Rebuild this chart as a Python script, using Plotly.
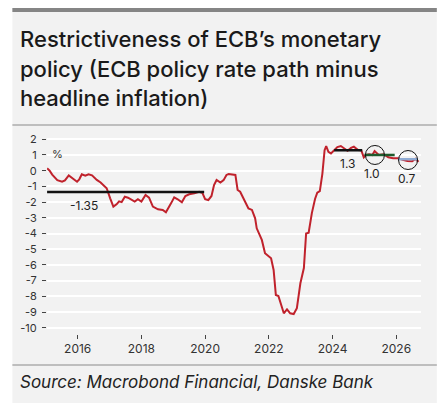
import plotly.graph_objects as go

# ---- data ----
years = [2015.04, 2015.12, 2015.2, 2015.28, 2015.36, 2015.51, 2015.6, 2015.72, 2015.85, 2015.98,
         2016.05, 2016.13, 2016.24, 2016.34, 2016.45, 2016.6, 2016.72, 2016.81, 2016.91, 2017.02,
         2017.12, 2017.22, 2017.3, 2017.38, 2017.48, 2017.58, 2017.69, 2017.79, 2017.89, 2018.0,
         2018.13, 2018.24, 2018.36, 2018.45, 2018.52, 2018.67, 2018.77, 2018.93, 2019.03, 2019.14,
         2019.27, 2019.38, 2019.5, 2019.66, 2019.81, 2019.91, 2020.0, 2020.1, 2020.2, 2020.28,
         2020.36, 2020.48, 2020.58, 2020.67, 2020.74, 2020.95, 2021.02, 2021.1, 2021.26, 2021.36,
         2021.47, 2021.57, 2021.62, 2021.78, 2021.88, 2021.99, 2022.07, 2022.15, 2022.22, 2022.3,
         2022.39, 2022.47, 2022.57, 2022.67, 2022.78, 2022.88, 2022.99, 2023.1, 2023.17, 2023.25,
         2023.35, 2023.45, 2023.52, 2023.6, 2023.68, 2023.75, 2023.8, 2023.87, 2023.95, 2024.05,
         2024.15, 2024.26, 2024.38, 2024.47, 2024.58, 2024.67, 2024.8, 2024.9, 2024.98, 2025.05,
         2025.15, 2025.25, 2025.32, 2025.45, 2025.6, 2025.75, 2025.9, 2026.05, 2026.2, 2026.35,
         2026.5, 2026.6, 2026.7]
real_rate = [0.15, 0.0, -0.25, -0.4, -0.6, -0.7, -0.62, -0.3, -0.5, -0.7,
             -0.55, -0.23, -0.32, -0.23, -0.3, -0.59, -0.75, -0.91, -1.12, -1.76,
             -2.29, -2.14, -1.95, -2.0, -1.66, -1.72, -1.87, -1.97, -1.82, -1.97,
             -1.55, -1.72, -2.29, -2.4, -2.46, -2.5, -2.65, -2.08, -1.7, -1.82,
             -2.01, -1.61, -1.5, -1.44, -1.34, -1.4, -1.82, -1.87, -1.61, -0.91,
             -0.59, -0.76, -0.6, -0.27, -0.21, -0.27, -1.23, -1.34, -1.97, -2.4,
             -2.5, -3.03, -3.67, -4.41, -5.26, -5.48, -5.58, -6.32, -7.92, -7.98,
             -8.55, -9.08, -8.83, -9.08, -9.13, -8.76, -7.17, -6.2, -4.0, -3.95,
             -2.7, -1.8, -1.4, -1.3, -0.2, 1.3, 1.57, 1.2, 1.1, 1.32,
             1.5, 1.57, 1.4, 1.27, 1.45, 1.53, 1.32, 1.3, 0.85, 1.0,
             1.05, 1.0, 1.25, 1.0, 1.05, 0.85, 0.8, 0.8, 0.7, 0.62,
             0.6, 0.75, 0.57]

avg_values = [-1.35, 1.3, 1.0, 0.73]
avg_labels = ["-1.35", "1.3", "1.0", "0.7"]
avg_start = [2015.04, 2024.05, 2025.0, 2026.06]
avg_end = [2019.97, 2024.93, 2025.95, 2026.68]
avg_colors = ["#111111", "#111111", "#1d5a2c", "#8fabd3"]

circle_x = [2025.33, 2026.37]
circle_y = [1.0, 0.68]

y_ticks = list(range(-10, 3))
y_ticktext = [str(v) for v in y_ticks]
x_ticks = [2016, 2018, 2020, 2022, 2024, 2026]
x_ticktext = [str(v) for v in x_ticks]

title_lines = ["Restrictiveness of ECB\u2019s monetary",
               "policy (ECB policy rate path minus",
               "headline inflation)"]
source_text = "Source: Macrobond Financial, Danske Bank"

# ---- layout geometry (pixels; the page adds an 8px body margin) ----
OFF = 8
W, H = 446 - OFF, 403 - OFF
ML, MR, MT, MB = 35, 25, 125, 69
PW, PH = W - ML - MR, H - MT - MB


def px_x(px):  # page pixel -> paper x
    return (px - OFF - ML) / PW


def px_y(py):  # page pixel -> paper y
    return (H - MB - (py - OFF)) / PH


FONT = "Inter"
fig = go.Figure()

fig.add_trace(go.Scatter(x=years, y=real_rate, mode="lines",
                         line=dict(color="#c0222c", width=2), hoverinfo="skip"))

for v, s, e, c in zip(avg_values, avg_start, avg_end, avg_colors):
    fig.add_trace(go.Scatter(x=[s, e], y=[v, v], mode="lines",
                             line=dict(color=c, width=2.5), hoverinfo="skip"))

fig.add_trace(go.Scatter(x=circle_x, y=circle_y, mode="markers",
                         marker=dict(symbol="circle-open", size=19,
                                     color="#111111", line=dict(width=1, color="#111111")),
                         hoverinfo="skip"))

shapes = [
    dict(type="rect", xref="paper", yref="paper", x0=px_x(8), x1=px_x(437),
         y0=px_y(403), y1=px_y(8), fillcolor="#f2f2f2", line=dict(width=0), layer="below"),
    dict(type="rect", xref="paper", yref="paper", x0=px_x(8), x1=px_x(437),
         y0=px_y(12), y1=px_y(8), fillcolor="#858585", line=dict(width=0), layer="below"),
    dict(type="line", xref="paper", yref="paper", x0=px_x(8), x1=px_x(437),
         y0=px_y(125), y1=px_y(125), line=dict(color="#8a8a8a", width=1.2), layer="below"),
    dict(type="line", xref="paper", yref="paper", x0=px_x(8), x1=px_x(437),
         y0=px_y(365), y1=px_y(365), line=dict(color="#8a8a8a", width=1.2), layer="below"),
]

annotations = []
for t, cy in zip(title_lines, [39, 69, 98]):
    annotations.append(dict(text=t, xref="paper", yref="paper", x=px_x(14), y=px_y(cy),
                            xanchor="left", yanchor="middle", showarrow=False,
                            font=dict(family=FONT, size=22, color="#1a1a1a", weight=500)))
annotations.append(dict(text="<i>" + source_text + "</i>", xref="paper", yref="paper",
                        x=px_x(14), y=px_y(382), xanchor="left", yanchor="middle",
                        showarrow=False, font=dict(family=FONT, size=17, color="#222222")))
annotations.append(dict(text="%", x=2015.36, y=1.05, xref="x", yref="y", showarrow=False,
                        font=dict(family=FONT, size=11, color="#333333")))
label_pos = [(2016.19, -2.2), (2024.47, 0.47), (2025.24, -0.17), (2026.33, -0.48)]
for t, (lx, ly) in zip(avg_labels, label_pos):
    annotations.append(dict(text=t, x=lx, y=ly, xref="x", yref="y", showarrow=False,
                            font=dict(family=FONT, size=12, color="#222222")))

fig.update_layout(
    width=W, height=H,
    margin=dict(l=ML, r=MR, t=MT, b=MB, pad=0),
    paper_bgcolor="white", plot_bgcolor="rgba(0,0,0,0)",
    showlegend=False,
    shapes=shapes, annotations=annotations,
    font=dict(family=FONT, color="#333333", size=11),
    xaxis=dict(range=[2015.037, 2026.776], tickvals=x_ticks, ticktext=x_ticktext,
               showgrid=False, zeroline=False, showline=False,
               ticks="outside", ticklen=4, tickwidth=1, tickcolor="#444444",
               tickfont=dict(family=FONT, size=12, color="#333333")),
    yaxis=dict(range=[-10.4, 2.4], tickvals=y_ticks, ticktext=y_ticktext,
               showgrid=True, gridcolor="white", gridwidth=1.5, zeroline=False,
               showline=False, ticks="outside", ticklen=4, tickwidth=1,
               ticklabelstandoff=3,
               tickcolor="#444444", tickfont=dict(family=FONT, size=11, color="#333333")),
)

fig.write_html("out.html")
